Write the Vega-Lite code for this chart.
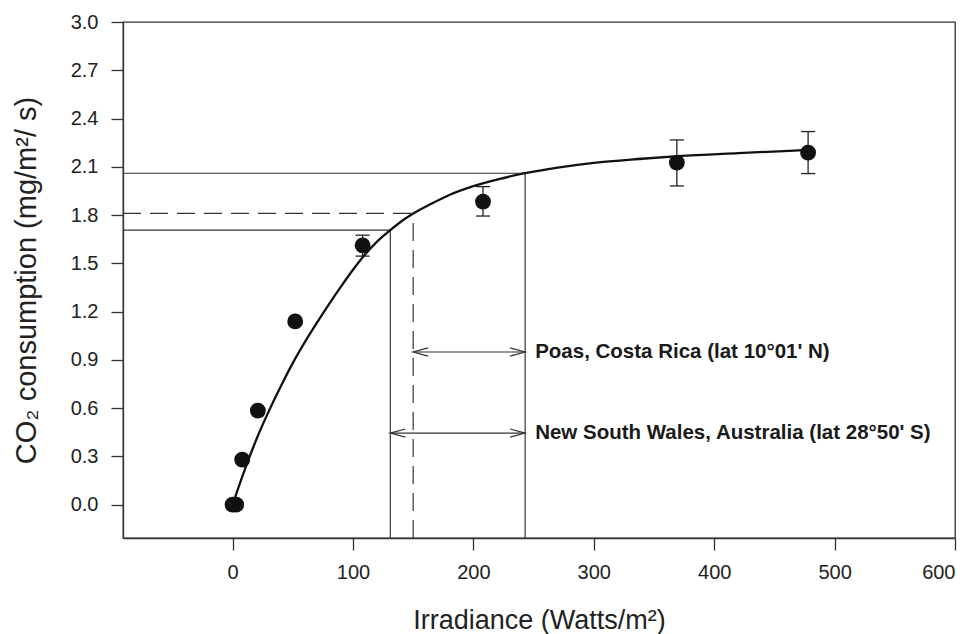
{
  "$schema": "https://vega.github.io/schema/vega-lite/v6.json",
  "width": 832,
  "height": 516,
  "autosize": {"type": "none"},
  "padding": {"left": 123, "top": 22, "right": 20, "bottom": 96},
  "background": "white",
  "config": {
    "font": "Liberation Sans",
    "view": {"stroke": "#333333", "strokeWidth": 1.3},
    "axis": {
      "grid": false,
      "domainColor": "#333333",
      "domainWidth": 1.3,
      "tickColor": "#333333",
      "tickWidth": 1.3,
      "tickSize": 12,
      "labelFontSize": 20,
      "labelColor": "#222222",
      "titleFontWeight": "normal",
      "titleColor": "#222222"
    }
  },
  "datasets": {
    "fit": [
      {"x": 0, "y": 0.0},
      {"x": 10, "y": 0.215},
      {"x": 20, "y": 0.41},
      {"x": 30, "y": 0.58},
      {"x": 40, "y": 0.735},
      {"x": 50, "y": 0.88},
      {"x": 60, "y": 1.01},
      {"x": 70, "y": 1.13},
      {"x": 80, "y": 1.245},
      {"x": 90, "y": 1.355},
      {"x": 100, "y": 1.46},
      {"x": 110, "y": 1.555},
      {"x": 120, "y": 1.635},
      {"x": 131, "y": 1.706},
      {"x": 140, "y": 1.76},
      {"x": 150, "y": 1.81},
      {"x": 165, "y": 1.87},
      {"x": 180, "y": 1.925},
      {"x": 200, "y": 1.98},
      {"x": 222, "y": 2.025},
      {"x": 243, "y": 2.06},
      {"x": 270, "y": 2.095},
      {"x": 300, "y": 2.125},
      {"x": 340, "y": 2.15},
      {"x": 370, "y": 2.166},
      {"x": 420, "y": 2.185},
      {"x": 478, "y": 2.205}
    ],
    "measured": [
      {"x": 0, "y": 0.0},
      {"x": 3, "y": 0.0},
      {"x": 8, "y": 0.28},
      {"x": 21, "y": 0.585},
      {"x": 52, "y": 1.139},
      {"x": 108, "y": 1.612},
      {"x": 208, "y": 1.884},
      {"x": 369, "y": 2.126},
      {"x": 478, "y": 2.188}
    ],
    "spread": [
      {"x": 108, "y": 1.545, "y2": 1.675},
      {"x": 208, "y": 1.794, "y2": 1.977},
      {"x": 369, "y": 1.981, "y2": 2.267},
      {"x": 478, "y": 2.058, "y2": 2.319}
    ],
    "levelsSolid": [
      {"x": -91, "x2": 131, "y": 1.706},
      {"x": -91, "x2": 243, "y": 2.06}
    ],
    "levelsDashed": [
      {"x": -91, "x2": 150, "y": 1.81}
    ],
    "dropsSolid": [
      {"x": 131, "y": -0.207, "y2": 1.706},
      {"x": 243, "y": -0.207, "y2": 2.06}
    ],
    "dropsDashed": [
      {"x": 150, "y": -0.207, "y2": 1.81}
    ],
    "ranges": [
      {"x": 150, "x2": 243, "y": 0.949, "label": "Poas, Costa Rica (lat 10°01' N)"},
      {"x": 131, "x2": 243, "y": 0.445, "label": "New South Wales, Australia (lat 28°50' S)"}
    ]
  },
  "encoding": {
    "x": {
      "field": "x",
      "type": "quantitative",
      "scale": {"domain": [-91, 600], "nice": false, "zero": false},
      "axis": {
        "title": "Irradiance (Watts/m²)",
        "titleFontSize": 27,
        "values": [0, 100, 200, 300, 400, 500, 600],
        "format": "d",
        "labelPadding": 12,
        "titlePadding": 25
      }
    },
    "y": {
      "field": "y",
      "type": "quantitative",
      "scale": {"domain": [-0.207, 3.0], "nice": false, "zero": false},
      "axis": {
        "title": "CO₂ consumption (mg/m²/ s)",
        "titleFontSize": 29,
        "values": [0, 0.3, 0.6, 0.9, 1.2, 1.5, 1.8, 2.1, 2.4, 2.7, 3.0],
        "format": ".1f",
        "labelPadding": 13,
        "titlePadding": 29
      }
    }
  },
  "layer": [
    {
      "data": {"name": "levelsSolid"},
      "mark": {"type": "rule", "color": "#333333", "strokeWidth": 1.2},
      "encoding": {"x2": {"field": "x2"}}
    },
    {
      "data": {"name": "levelsDashed"},
      "mark": {"type": "rule", "color": "#333333", "strokeWidth": 1.2, "strokeDash": [18, 9]},
      "encoding": {"x2": {"field": "x2"}}
    },
    {
      "data": {"name": "dropsSolid"},
      "mark": {"type": "rule", "color": "#333333", "strokeWidth": 1.2},
      "encoding": {"y2": {"field": "y2"}}
    },
    {
      "data": {"name": "dropsDashed"},
      "mark": {"type": "rule", "color": "#333333", "strokeWidth": 1.2, "strokeDash": [18, 9]},
      "encoding": {"y2": {"field": "y2"}}
    },
    {
      "data": {"name": "ranges"},
      "mark": {"type": "rule", "color": "#333333", "strokeWidth": 1.2},
      "encoding": {"x2": {"field": "x2"}}
    },
    {
      "data": {"name": "ranges"},
      "mark": {"type": "point", "shape": "M 1 -0.27 L 0 0 L 1 0.27", "size": 900, "filled": false, "color": "#333333", "strokeWidth": 1.2, "opacity": 1}
    },
    {
      "data": {"name": "ranges"},
      "mark": {"type": "point", "shape": "M -1 -0.27 L 0 0 L -1 0.27", "size": 900, "filled": false, "color": "#333333", "strokeWidth": 1.2, "opacity": 1},
      "encoding": {"x": {"field": "x2", "type": "quantitative", "title": "Irradiance (Watts/m²)"}}
    },
    {
      "data": {"name": "ranges"},
      "mark": {"type": "text", "align": "left", "baseline": "middle", "dx": 10, "fontSize": 20.5, "fontWeight": "bold", "color": "#1a1a1a"},
      "encoding": {
        "x": {"field": "x2", "type": "quantitative", "title": "Irradiance (Watts/m²)"},
        "text": {"field": "label"}
      }
    },
    {
      "data": {"name": "spread"},
      "mark": {"type": "rule", "color": "#222222", "strokeWidth": 1.3},
      "encoding": {"y2": {"field": "y2"}}
    },
    {
      "data": {"name": "spread"},
      "mark": {"type": "point", "shape": "M -1 0 L 1 0", "size": 196, "filled": false, "color": "#222222", "strokeWidth": 1.3, "opacity": 1}
    },
    {
      "data": {"name": "spread"},
      "mark": {"type": "point", "shape": "M -1 0 L 1 0", "size": 196, "filled": false, "color": "#222222", "strokeWidth": 1.3, "opacity": 1},
      "encoding": {"y": {"field": "y2", "type": "quantitative", "title": "CO₂ consumption (mg/m²/ s)"}}
    },
    {
      "data": {"name": "fit"},
      "mark": {"type": "line", "color": "#111111", "strokeWidth": 2.3, "interpolate": "monotone"}
    },
    {
      "data": {"name": "measured"},
      "mark": {"type": "point", "shape": "circle", "size": 250, "filled": true, "color": "#111111", "opacity": 1}
    }
  ]
}
